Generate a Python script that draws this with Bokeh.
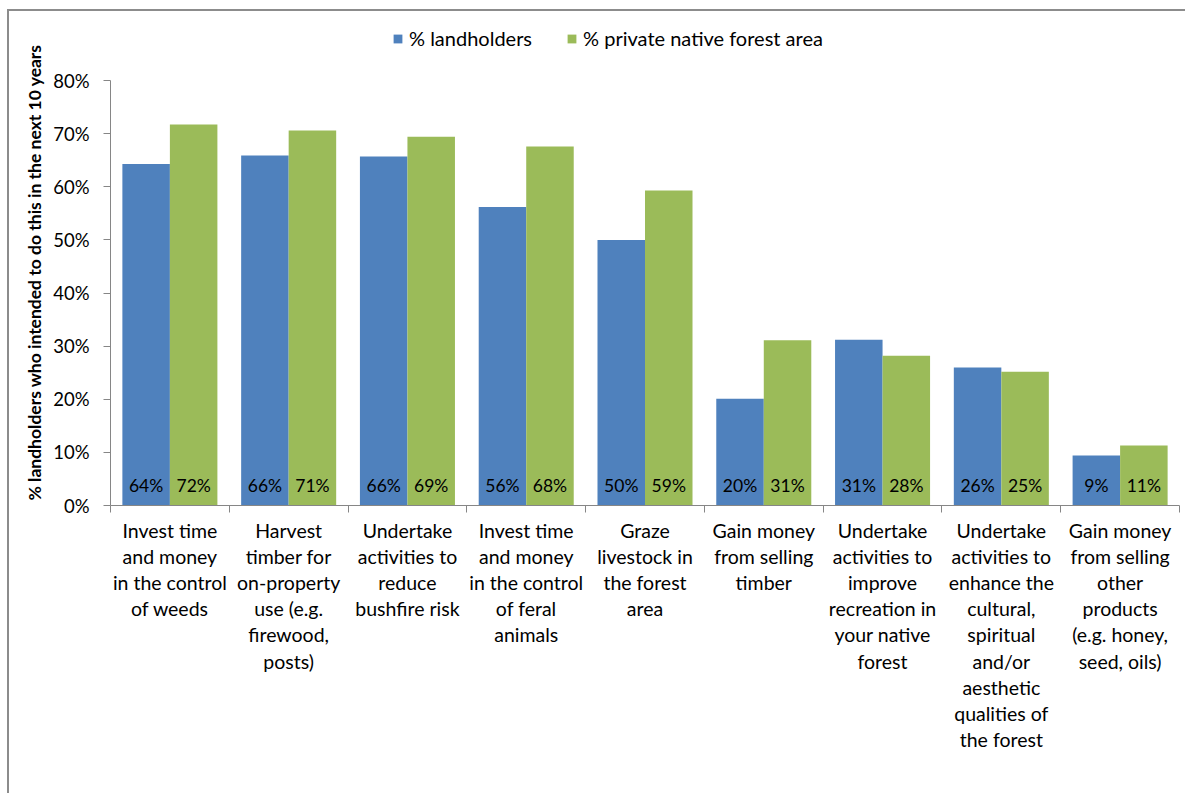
import numpy as np
from bokeh.plotting import figure
from bokeh.models import (Range1d, LinearAxis, FixedTicker, NumeralTickFormatter,
                          Legend, LegendItem, Title, ColumnDataSource)
from bokeh.core.properties import value
from bokeh.embed import file_html
from bokeh.resources import INLINE

categories = [
    "Invest time\nand money\nin the control\nof weeds",
    "Harvest\ntimber for\non-property\nuse (e.g.\nfirewood,\nposts)",
    "Undertake\nactivities to\nreduce\nbushfire risk",
    "Invest time\nand money\nin the control\nof feral\nanimals",
    "Graze\nlivestock in\nthe forest\narea",
    "Gain money\nfrom selling\ntimber",
    "Undertake\nactivities to\nimprove\nrecreation in\nyour native\nforest",
    "Undertake\nactivities to\nenhance the\ncultural,\nspiritual\nand/or\naesthetic\nqualities of\nthe forest",
    "Gain money\nfrom selling\nother\nproducts\n(e.g. honey,\nseed, oils)",
]
landholders = [0.643, 0.659, 0.657, 0.562, 0.500, 0.201, 0.312, 0.260, 0.094]
forest_area = [0.717, 0.706, 0.694, 0.676, 0.593, 0.311, 0.282, 0.252, 0.113]
y_ticks = [0.0, 0.1, 0.2, 0.3, 0.4, 0.5, 0.6, 0.7, 0.8]
series_names = ["% landholders", "% private native forest area"]
y_title = "% landholders who intended to do this in the next 10 years"
colors = ["#4F81BD", "#9BBB59"]

FONT = "Lato"
n = len(categories)
centers = np.arange(n) + 0.5
off = 0.2
bw = 0.4

# frame extends above 80% to hold the legend; axis line limited to 0..80%
p = figure(width=1178, height=784, output_backend="svg", toolbar_location=None,
           x_range=Range1d(0, n), y_range=Range1d(0, 0.9299),
           min_border_left=101, min_border_right=8, min_border_top=0,
           min_border_bottom=290, x_axis_type=None, y_axis_type=None)
p.styles = {"margin-left": "7px", "margin-top": "9px",
            "border-left": "2px solid #8c8c8c", "border-top": "2px solid #8c8c8c"}
p.outline_line_color = None
p.background_fill_color = "white"
p.border_fill_color = "white"

# axes
xaxis = LinearAxis(ticker=FixedTicker(ticks=list(centers), minor_ticks=list(np.arange(n + 1))))
xaxis.major_label_overrides = {float(c): lab for c, lab in zip(centers, categories)}
xaxis.major_tick_line_color = None
xaxis.minor_tick_out = 7
xaxis.minor_tick_in = 0
xaxis.minor_tick_line_color = "#868686"
xaxis.axis_line_color = "#868686"
xaxis.major_label_text_font = FONT
xaxis.major_label_text_font_size = "19.5px"
xaxis.major_label_text_color = "black"
xaxis.major_label_text_line_height = 1.14
xaxis.major_label_standoff = 6
p.add_layout(xaxis, "below")

yaxis = LinearAxis(ticker=FixedTicker(ticks=y_ticks, minor_ticks=[]),
                   formatter=NumeralTickFormatter(format="0%"), bounds=(0, 0.8))
yaxis.major_tick_out = 7
yaxis.major_tick_in = 0
yaxis.major_tick_line_color = "#868686"
yaxis.axis_line_color = "#868686"
yaxis.major_label_text_font = FONT
yaxis.major_label_text_font_size = "18.5px"
yaxis.major_label_text_color = "black"
yaxis.major_label_standoff = 14
p.add_layout(yaxis, "left")

p.add_layout(Title(text=y_title, align="left", offset=5, text_font=FONT,
                   text_font_size="17.5px", text_font_style="bold",
                   text_color="black", standoff=12), "left")

p.ygrid.ticker = FixedTicker(ticks=y_ticks[1:])
p.ygrid.grid_line_color = "#969696"
p.xgrid.visible = False

src = ColumnDataSource(dict(
    x1=centers - off, x2=centers + off,
    y1=landholders, y2=forest_area,
    l1=["%d%%" % round(v * 100) for v in landholders],
    l2=["%d%%" % round(v * 100) for v in forest_area],
))
r1 = p.vbar(x="x1", top="y1", width=bw, bottom=0, source=src,
            fill_color=colors[0], line_color=None)
r2 = p.vbar(x="x2", top="y2", width=bw, bottom=0, source=src,
            fill_color=colors[1], line_color=None)

for xcol, lcol in (("x1", "l1"), ("x2", "l2")):
    p.text(x=xcol, y=0.038, text=lcol, source=src, text_font=value(FONT),
           text_font_size="17.5px", text_color="black",
           text_align="center", text_baseline="middle")

legend = Legend(items=[LegendItem(label=series_names[0], renderers=[r1]),
                       LegendItem(label=series_names[1], renderers=[r2])],
                orientation="horizontal", location=(282, 455))
legend.label_text_font = FONT
legend.label_text_font_size = "20px"
legend.label_text_color = "black"
legend.glyph_width = 11
legend.glyph_height = 11
legend.label_standoff = 6
legend.spacing = 34
legend.padding = 0
legend.margin = 0
legend.border_line_color = None
legend.background_fill_alpha = 0
p.add_layout(legend, "center")

open("out.html", "w").write(file_html(p, INLINE))
